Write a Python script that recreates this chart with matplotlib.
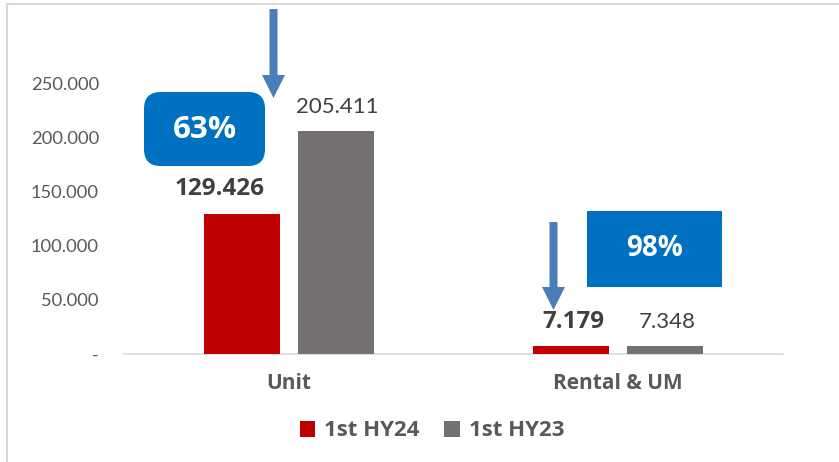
import matplotlib
matplotlib.use("Agg")
import matplotlib.pyplot as plt
from matplotlib.patches import FancyBboxPatch, Rectangle, FancyArrow
from matplotlib.lines import Line2D
from matplotlib.ticker import FixedLocator

categories = ["Unit", "Rental & UM"]
series_names = ["1st HY24", "1st HY23"]
hy24 = [129426, 7179]
hy23 = [205411, 7348]
label_hy24 = ["129.426", "7.179"]
label_hy23 = ["205.411", "7.348"]
ratio_labels = ["63%", "98%"]
yticks = [0, 50000, 100000, 150000, 200000, 250000]
ytick_labels = ["-", "50.000", "100.000", "150.000", "200.000", "250.000"]

plt.rcParams['font.family'] = ['Lato', 'DejaVu Sans']
BOLD = ['Open Sans', 'DejaVu Sans']

W, H = 839, 462
fig = plt.figure(figsize=(W / 100, H / 100), dpi=100)
fig.patch.set_facecolor("white")

def fx(px):
    return px / W

def fy(py):
    return 1 - py / H

ax = fig.add_axes([fx(124), fy(354), fx(783) - fx(124), fy(28.8) - fy(354)])
ax.set_xlim(-0.5, 1.5)
ax.set_ylim(0, 300000)

red = "#C00000"
gray = "#767171"
txt = "#595959"
dark = "#404040"
blue = "#0070C0"
arrow_c = "#4A7EBB"

x = [0, 1]
off = 0.143
bw = 0.23
ax.bar([i - off for i in x], hy24, width=bw, color=red, label=series_names[0], zorder=3)
ax.bar([i + off for i in x], hy23, width=bw, color=gray, label=series_names[1], zorder=3)

# label horizontal nudges (points); first label was moved left in the original
nudge24 = [-16, 2]
for i in x:
    ax.annotate(label_hy24[i], (i - off, hy24[i]), xytext=(nudge24[i], 9), textcoords="offset points",
                ha="center", va="bottom", fontsize=17.5, fontweight="bold", color=dark,
                family=BOLD)
    ax.annotate(label_hy23[i], (i + off, hy23[i]), xytext=(1, 10), textcoords="offset points",
                ha="center", va="bottom", fontsize=16, color=dark)

for s in ["top", "right", "left"]:
    ax.spines[s].set_visible(False)
ax.spines["bottom"].set_color("#D9D9D9")
ax.spines["bottom"].set_linewidth(1.2)

ax.yaxis.set_major_locator(FixedLocator(yticks))
ax.set_yticklabels(ytick_labels)
ax.tick_params(axis="y", length=0, pad=18, labelsize=13.2, labelcolor=txt)
ax.set_xticks(x)
ax.set_xticklabels(categories, fontweight="bold", family=BOLD)
ax.tick_params(axis="x", length=0, pad=14, labelsize=15, labelcolor=txt)

# percentage boxes
box1 = FancyBboxPatch((fx(144), fy(166)), fx(265) - fx(144), fy(92) - fy(166),
                      boxstyle="round,pad=0,rounding_size=0.02", transform=fig.transFigure,
                      facecolor=blue, edgecolor="none", mutation_aspect=W / H)
fig.patches.append(box1)
fig.text(fx(204.5), fy(130), ratio_labels[0], ha="center", va="center", color="white",
         fontsize=22.5, fontweight="bold", family=BOLD)

box2 = Rectangle((fx(587), fy(287)), fx(722) - fx(587), fy(211) - fy(287),
                 transform=fig.transFigure, facecolor=blue, edgecolor="none")
fig.patches.append(box2)
fig.text(fx(654.5), fy(249), ratio_labels[1], ha="center", va="center", color="white",
         fontsize=20, fontweight="bold", family=BOLD)

# arrows (pixel geometry converted to figure fraction)
for (xa, y0, y1) in [(273.5, 9, 98), (553.5, 222, 310)]:
    fig.patches.append(
        FancyArrow(fx(xa), fy(y0), 0, fy(y1) - fy(y0), width=8 / W,
                   head_width=23 / W, head_length=23 / H,
                   length_includes_head=True, transform=fig.transFigure,
                   color=arrow_c, lw=0)
    )

# border lines (top and left)
fig.add_artist(Line2D([fx(7), 1], [fy(4), fy(4)], transform=fig.transFigure, color="#D9D9D9", lw=1.5))
fig.add_artist(Line2D([fx(7), fx(7)], [fy(4), 0], transform=fig.transFigure, color="#D9D9D9", lw=1.5))

# legend
leg = fig.legend(loc="center", bbox_to_anchor=(fx(432), fy(431)), ncol=2, frameon=False,
                 prop={"weight": "bold", "size": 16, "family": BOLD}, handlelength=0.7,
                 handleheight=0.7, handletextpad=0.4, columnspacing=1.1)
for t in leg.get_texts():
    t.set_color(txt)

fig.savefig("out.png", dpi=100, facecolor="white")
